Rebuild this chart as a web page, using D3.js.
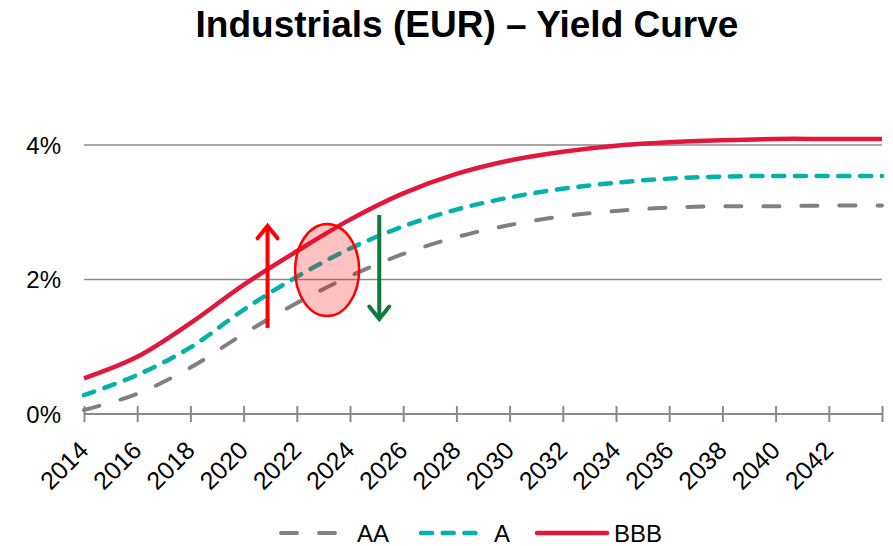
<!DOCTYPE html>
<html>
<head>
<meta charset="utf-8">
<script src="https://cdn.jsdelivr.net/npm/d3@7/dist/d3.min.js"></script>
<style>
  html, body { margin: 0; padding: 0; background: #fff; }
  svg { display: block; font-family: "Liberation Sans", Arial, sans-serif; }
</style>
</head>
<body>
<svg id="chart" width="893" height="546"></svg>
<script>
// Maturity years (x) and yields in % for each rating bucket
const years = [2014, 2016, 2018, 2020, 2022, 2024, 2026, 2028, 2030, 2032, 2034, 2036, 2038, 2040, 2042, 2044];
const yieldAA  = [0.06, 0.30, 0.69, 1.19, 1.65, 2.05, 2.38, 2.63, 2.81, 2.94, 3.02, 3.07, 3.09, 3.09, 3.10, 3.10];
const yieldA   = [0.28, 0.58, 0.99, 1.55, 2.04, 2.46, 2.79, 3.04, 3.22, 3.35, 3.44, 3.50, 3.53, 3.54, 3.54, 3.54];
const yieldBBB = [0.53, 0.85, 1.35, 1.92, 2.42, 2.89, 3.28, 3.57, 3.77, 3.90, 3.99, 4.04, 4.07, 4.09, 4.09, 4.09];

const xTickYears = d3.range(2014, 2045, 2);
const xLabelYears = d3.range(2014, 2043, 2);
const yTicks = [0, 2, 4];

const seriesNames = ["AA", "A", "BBB"];
const seriesColors = ["#808080", "#00b2a9", "#e3173b"];
const seriesDash = ["16,22", "11,10.7", null];
const seriesWidth = [4, 4.5, 4.5];
const seriesValues = [yieldAA, yieldA, yieldBBB];

const svg = d3.select("#chart");

const x = d3.scaleLinear().domain([2014, 2044]).range([84, 882]);
const y = d3.scaleLinear().domain([0, 4]).range([414, 145]);

// Title
svg.append("text")
  .attr("x", 467).attr("y", 37)
  .attr("text-anchor", "middle")
  .attr("font-size", 37).attr("font-weight", "bold")
  .attr("fill", "#000")
  .text("Industrials (EUR) \u2013 Yield Curve");

// Horizontal gridlines
svg.append("g").selectAll("line")
  .data(yTicks.filter(d => d > 0))
  .join("line")
  .attr("x1", x(2014)).attr("x2", x(2044))
  .attr("y1", d => y(d)).attr("y2", d => y(d))
  .attr("stroke", "#8a8a8a").attr("stroke-width", 1.5);

// Y tick labels
svg.append("g").selectAll("text")
  .data(yTicks)
  .join("text")
  .attr("x", 61).attr("y", d => y(d))
  .attr("dy", "0.36em")
  .attr("text-anchor", "end")
  .attr("font-size", 24)
  .attr("fill", "#000")
  .text(d => d + "%");

// X axis line with crossing ticks
const xAxis = d3.axisBottom(x)
  .tickValues(xTickYears)
  .tickSize(8)
  .tickFormat("");
const gx = svg.append("g").attr("transform", `translate(0,${y(0)})`).call(xAxis);
gx.select(".domain").remove();
gx.selectAll(".tick line").attr("y1", -8).attr("y2", 8).attr("stroke", "#8a8a8a").attr("stroke-width", 2);
gx.append("line")
  .attr("x1", x(2014)).attr("x2", x(2044))
  .attr("stroke", "#8a8a8a").attr("stroke-width", 2);

// Rotated year labels
svg.append("g").selectAll("text")
  .data(xLabelYears)
  .join("text")
  .attr("transform", d => `translate(${x(d) + 6},452) rotate(-45)`)
  .attr("text-anchor", "end")
  .attr("font-size", 25)
  .attr("fill", "#000")
  .text(d => d);

// Yield curves (smoothed)
const line = d3.line()
  .x((d, i) => x(years[i]))
  .y(d => y(d))
  .curve(d3.curveCatmullRom.alpha(0.5));

svg.append("g").selectAll("path")
  .data(seriesValues)
  .join("path")
  .attr("d", d => line(d))
  .attr("fill", "none")
  .attr("stroke", (d, i) => seriesColors[i])
  .attr("stroke-width", (d, i) => seriesWidth[i])
  .attr("stroke-dasharray", (d, i) => seriesDash[i])
  .attr("stroke-linecap", (d, i) => seriesDash[i] ? "round" : "butt")
  .attr("stroke-linejoin", "round");

// Annotations: spread widening arrow, highlighted zone, tightening arrow
function arrow(g, xv, yFrom, yTo, color) {
  const x0 = x(xv), y0 = y(yFrom), y1 = y(yTo);
  const dir = y1 < y0 ? 1 : -1;
  g.append("line")
    .attr("x1", x0).attr("x2", x0)
    .attr("y1", y0).attr("y2", y1 + dir * 2)
    .attr("stroke", color).attr("stroke-width", 4);
  g.append("path")
    .attr("d", `M${x0 - 10},${y1 + dir * 14} L${x0},${y1 + dir * 1.5} L${x0 + 10},${y1 + dir * 14}`)
    .attr("fill", "none")
    .attr("stroke", color).attr("stroke-width", 4)
    .attr("stroke-linecap", "round").attr("stroke-linejoin", "miter");
}
const ann = svg.append("g");
arrow(ann, 2020.9, 1.28, 2.82, "#ff0000");
ann.append("ellipse")
  .attr("cx", x(2023.14)).attr("cy", y(2.14))
  .attr("rx", 32).attr("ry", 46)
  .attr("fill", "rgba(255,0,0,0.24)")
  .attr("stroke", "#ff0000").attr("stroke-width", 2.5);
arrow(ann, 2025.1, 2.96, 1.39, "#117a3a");

// Legend
const legendItems = [
  { x1: 279, x2: 337, tx: 357 },
  { x1: 419, x2: 486, tx: 494 },
  { x1: 537, x2: 607, tx: 614 }
];
const lg = svg.append("g");
legendItems.forEach((it, i) => {
  lg.append("line")
    .attr("x1", it.x1 + (seriesDash[i] ? 2 : 0)).attr("x2", it.x2 - (seriesDash[i] ? 2 : 0))
    .attr("y1", 533).attr("y2", 533)
    .attr("stroke", seriesColors[i])
    .attr("stroke-width", seriesWidth[i])
    .attr("stroke-dasharray", seriesDash[i])
    .attr("stroke-linecap", "round");
  lg.append("text")
    .attr("x", it.tx).attr("y", 542)
    .attr("font-size", 24)
    .attr("fill", "#000")
    .text(seriesNames[i]);
});
</script>
</body>
</html>
